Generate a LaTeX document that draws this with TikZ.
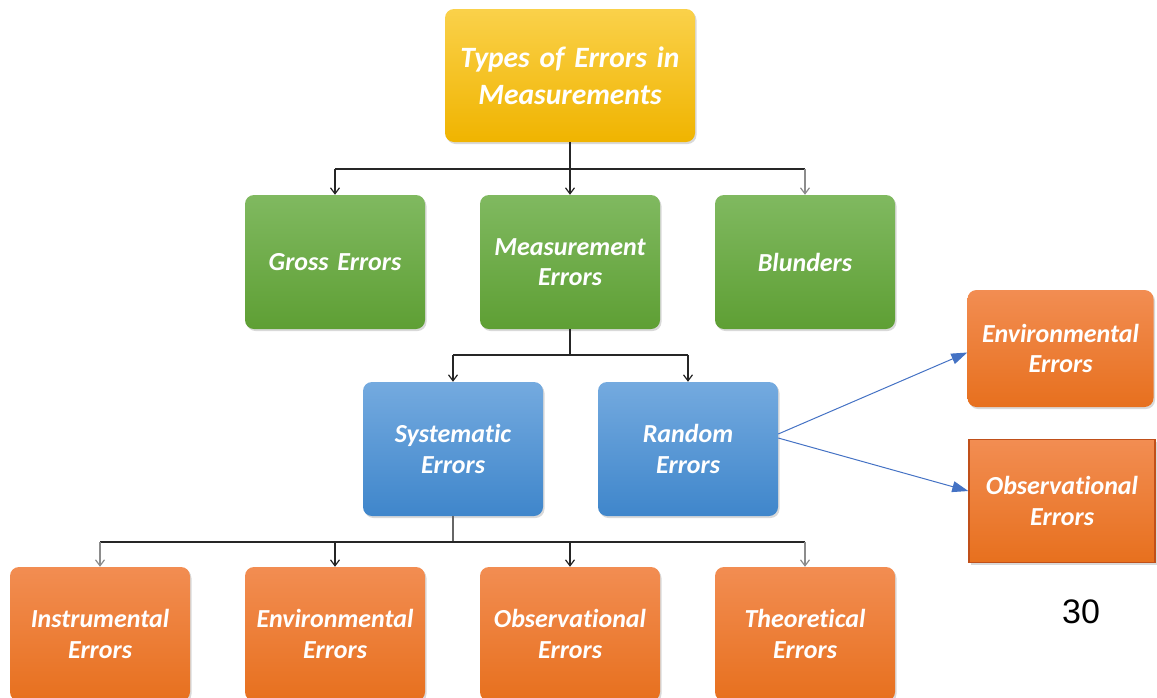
\documentclass[tikz,border=0pt]{standalone}
\usepackage{fontspec}
\setmainfont{Carlito}[Ligatures={NoCommon}, WordSpace=0.6]
\newfontfamily\numfont{Liberation Sans}
\usetikzlibrary{arrows.meta,shadows}
\definecolor{yelTop}{HTML}{FAD14A}
\definecolor{yelBot}{HTML}{F0B400}
\definecolor{grnTop}{HTML}{80B960}
\definecolor{grnBot}{HTML}{5E9F34}
\definecolor{bluTop}{HTML}{74AADF}
\definecolor{bluBot}{HTML}{3F86CB}
\definecolor{orgTop}{HTML}{F28D52}
\definecolor{orgBot}{HTML}{E7701E}
\definecolor{orgEdge}{HTML}{C0501A}
\definecolor{arrBlue}{HTML}{4472C4}
\tikzset{
  box/.style={rounded corners=9pt, minimum width=180pt, minimum height=134pt,
    text width=172pt, inner sep=2pt, align=center, text=white,
    font=\bfseries\itshape\fontsize{26}{30.5}\selectfont,
    drop shadow={opacity=0.3, shadow xshift=1.5pt, shadow yshift=-2pt}},
  topbox/.style={box, top color=yelTop, bottom color=yelBot, minimum width=250pt,
    minimum height=133pt, text width=244pt,
    font=\bfseries\itshape\fontsize{29.5}{37}\selectfont},
  greenbox/.style={box, top color=grnTop, bottom color=grnBot},
  bluebox/.style={box, top color=bluTop, bottom color=bluBot},
  orangebox/.style={box, top color=orgTop, bottom color=orgBot},
  sidebox/.style={orangebox, minimum width=186pt, minimum height=117pt, text width=180pt},
  line/.style={draw=black!85, line width=1.4pt},
  arr/.style={draw=black!85, line width=1.2pt, -{Straight Barb[length=6pt,width=9pt]}},
  farr/.style={arr, draw=black!45},
  barr/.style={draw=arrBlue, line width=1pt, -{Triangle[length=16pt,width=11pt]}}
}
\begin{document}
\begin{tikzpicture}[x=1pt,y=-1pt]
\useasboundingbox (0,0) rectangle (1157,697);
% nodes
\node[topbox] (top) at (570,75.5) {Types of Errors in\\Measurements};
\node[greenbox] (gross) at (335,262) {Gross Errors};
\node[greenbox] (meas) at (570,262) {Measurement\\Errors};
\node[greenbox] (blund) at (805,262) {Blunders};
\node[bluebox] (sys) at (453,449) {Systematic\\Errors};
\node[bluebox] (rand) at (688,449) {Random\\Errors};
\node[orangebox] (instr) at (100,634) {Instrumental\\Errors};
\node[orangebox] (env) at (335,634) {Environmental\\Errors};
\node[orangebox] (obs) at (570,634) {Observational\\Errors};
\node[orangebox] (theo) at (805,634) {Theoretical\\Errors};
\node[sidebox] (renv) at (1060.5,348.5) {Environmental\\Errors};
\node[sidebox, rounded corners=0pt, draw=orgEdge, line width=1.5pt, minimum height=123pt] (robs) at (1062,501) {Observational\\Errors};
\node[font=\numfont\fontsize{34}{34}\selectfont] (page) at (1081,612) {30};
% junctions
\coordinate (j1) at (570,169);
\coordinate (j2) at (570,355);
\coordinate (j3) at (453,542);
% top level
\draw[line] (top.south) -- (j1);
\draw[line] (gross.north |- j1) -- (blund.north |- j1);
\draw[arr] (gross.north |- j1) -- (gross.north);
\draw[arr] (j1) -- (meas.north);
\draw[farr] (blund.north |- j1) -- (blund.north);
% second level
\draw[line] (meas.south) -- (j2);
\draw[line] (sys.north |- j2) -- (rand.north |- j2);
\draw[arr] (sys.north |- j2) -- (sys.north);
\draw[arr] (rand.north |- j2) -- (rand.north);
% third level
\draw[draw=black!60, line width=1.2pt] (sys.south) -- (j3);
\draw[line] (instr.north |- j3) -- (theo.north |- j3);
\draw[farr] (instr.north |- j3) -- (instr.north);
\draw[arr] (env.north |- j3) -- (env.north);
\draw[arr] (obs.north |- j3) -- (obs.north);
\draw[farr] (theo.north |- j3) -- (theo.north);
% side arrows
\draw[barr] ([yshift=15pt]rand.east) -- ([yshift=-4pt]renv.west);
\draw[barr] ([yshift=11pt]rand.east) -- ([yshift=10pt]robs.west);
\end{tikzpicture}
\end{document}
